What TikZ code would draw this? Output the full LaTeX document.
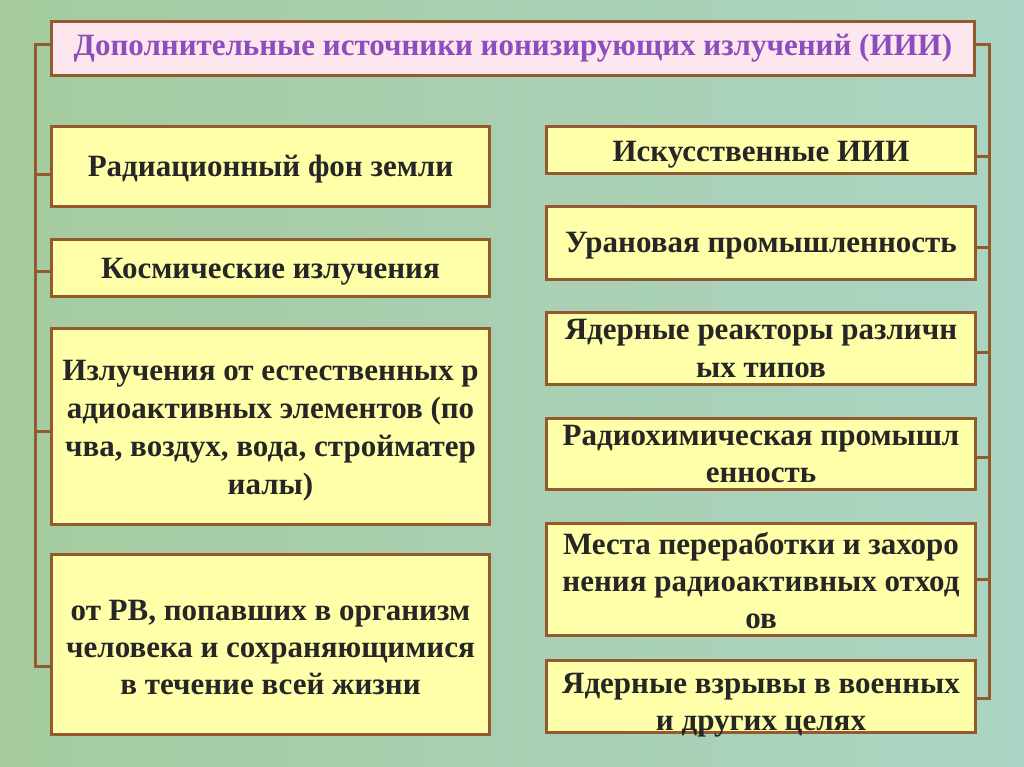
\documentclass[tikz,border=0pt]{standalone}
\usepackage{fontspec}
\setmainfont{Liberation Serif}
\definecolor{bgL}{RGB}{165,203,158}
\definecolor{bgR}{RGB}{172,212,196}
\definecolor{brd}{RGB}{148,90,45}
\definecolor{ylw}{RGB}{255,255,170}
\definecolor{pnk}{RGB}{253,230,238}
\definecolor{txt}{RGB}{38,38,38}
\definecolor{ttl}{RGB}{140,78,190}
\newcommand{\dn}[1]{\rule{0pt}{#1pt}}
\begin{document}
\begin{tikzpicture}[x=1pt,y=-1pt,
  box/.style={draw=brd, line width=3pt, fill=ylw, anchor=north west, inner sep=0pt,
    align=center, text=txt, font=\bfseries\fontsize{31}{37}\selectfont},
  conn/.style={draw=brd, line width=3pt},
]
\fill[left color=bgL, right color=bgR] (0,0) rectangle (1024,767);
\useasboundingbox (0,0) rectangle (1024,767);

\node[box, fill=pnk, text=ttl, minimum width=923pt, minimum height=54pt,
  font=\bfseries\fontsize{31}{37}\selectfont] (T) at (50,20)
  {Дополнительные источники ионизирующих излучений (ИИИ)};

\node[box, minimum width=438pt, minimum height=80pt] (L1) at (50,125) {\dn{26}Радиационный фон земли};
\node[box, minimum width=438pt, minimum height=57pt] (L2) at (50,238) {\dn{28}Космические излучения};
\node[box, minimum width=438pt, minimum height=196pt, font=\bfseries\fontsize{31}{38}\selectfont] (L3) at (50,327)
  {\dn{28}Излучения от естественных р\\адиоактивных элементов (по\\чва, воздух, вода, стройматер\\иалы)};
\node[box, minimum width=438pt, minimum height=180pt] (L4) at (50,553)
  {\dn{26}от РВ, попавших в организм\\человека и сохраняющимися\\в течение всей жизни};

\node[box, minimum width=429pt, minimum height=47pt] (R1) at (545,125) {\dn{29}Искусственные ИИИ};
\node[box, minimum width=429pt, minimum height=73pt] (R2) at (545,205) {\dn{26}Урановая промышленность};
\node[box, minimum width=429pt, minimum height=72pt] (R3) at (545,311) {Ядерные реакторы различн\\ых типов};
\node[box, minimum width=429pt, minimum height=71pt] (R4) at (545,417) {Радиохимическая промышл\\енность};
\node[box, minimum width=429pt, minimum height=112pt] (R5) at (545,522) {\dn{25}Места переработки и захоро\\нения радиоактивных отход\\ов};
\node[box, minimum width=429pt, minimum height=72pt, text depth=0pt] (R6) at (545,659) {\dn{30}Ядерные взрывы в военных\\и других целях};

\coordinate (LX) at (35,0);
\coordinate (RX) at (989,0);

\draw[conn] ([yshift=4pt]T.west) -- ([yshift=4pt]T.west -| LX) |- ([yshift=-22pt]L4.west);
\draw[conn] ([yshift=-8pt]L1.west) -- ([yshift=-8pt]L1.west -| LX);
\draw[conn] ([yshift=-3pt]L2.west) -- ([yshift=-3pt]L2.west -| LX);
\draw[conn] ([yshift=-5pt]L3.west) -- ([yshift=-5pt]L3.west -| LX);

\draw[conn] ([yshift=4pt]T.east) -- ([yshift=4pt]T.east -| RX) |- ([yshift=-2pt]R6.east);
\draw[conn] ([yshift=-7pt]R1.east) -- ([yshift=-7pt]R1.east -| RX);
\draw[conn] ([yshift=-4pt]R2.east) -- ([yshift=-4pt]R2.east -| RX);
\draw[conn] ([yshift=-4pt]R3.east) -- ([yshift=-4pt]R3.east -| RX);
\draw[conn] ([yshift=-3pt]R4.east) -- ([yshift=-3pt]R4.east -| RX);
\draw[conn] (R5.east) -- (R5.east -| RX);
\end{tikzpicture}
\end{document}
